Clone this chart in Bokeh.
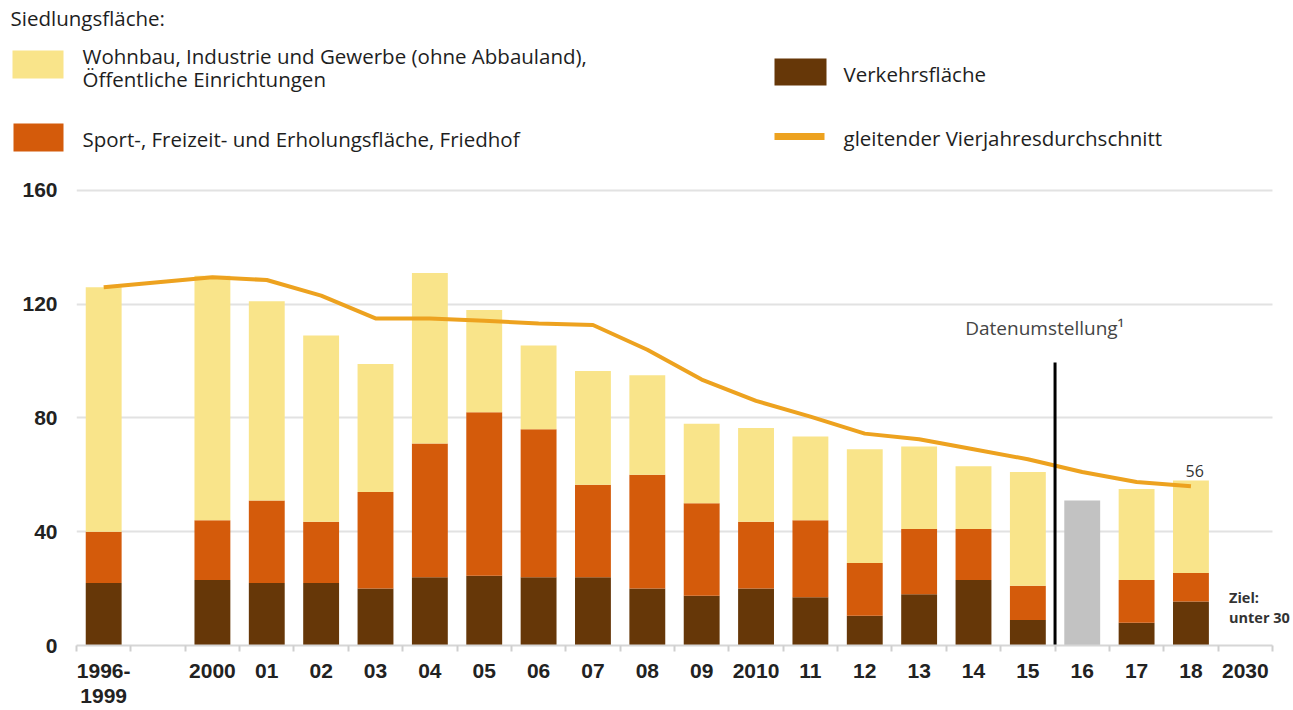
from bokeh.plotting import figure
from bokeh.models import Range1d, FixedTicker, Label
from bokeh.layouts import column
from bokeh.embed import file_html
from bokeh.resources import INLINE

# ---------------- data ----------------
slots = ["1996-1999", "", "2000", "01", "02", "03", "04", "05", "06", "07", "08",
         "09", "2010", "11", "12", "13", "14", "15", "16", "17", "18", "2030"]
tick_overrides = {"1996-1999": "1996-\n1999"}

bar_years = ["1996-1999", "2000", "01", "02", "03", "04", "05", "06", "07", "08",
             "09", "2010", "11", "12", "13", "14", "15", "17", "18"]
verkehr = [22, 23, 22, 22, 20, 24, 24.5, 24, 24, 20, 17.5, 20, 17, 10.5, 18, 23, 9, 8, 15.5]
sport = [18, 21, 29, 21.5, 34, 47, 57.5, 52, 32.5, 40, 32.5, 23.5, 27, 18.5, 23, 18, 12, 15, 10]
wohnbau = [86, 86, 70, 65.5, 45, 60, 36, 29.5, 40, 35, 28, 33, 29.5, 40, 29, 22, 40, 32, 32.5]

gray_years = ["16"]
gray_values = [51]

ma_years = ["1996-1999", "2000", "01", "02", "03", "04", "05", "06", "07", "08",
            "09", "2010", "11", "12", "13", "14", "15", "16", "17", "18"]
ma_values = [126, 129.5, 128.5, 123, 115, 115, 114.2, 113.2, 112.7, 104,
             93.5, 86, 80.5, 74.5, 72.5, 69, 65.5, 61, 57.5, 56]

umstellung_after = "15"
umstellung_top = 99.5
last_label = "56"
ziel_text = ["Ziel:", "unter 30"]

# ---------------- styles ----------------
YELLOW = "#f9e48a"
ORANGE = "#d45b0b"
BROWN = "#663708"
LINE = "#eda21f"
GRAY = "#c2c2c2"
FONT = "Open Sans"
TICKFONT = "Liberation Sans"

W = 1293
LH = 165
MH = 544
PX_PER_SLOT = 54.36


def no_align(fig):
    if "frame_align" in fig.properties():
        fig.frame_align = False


# ---------------- legend figure ----------------
lg = figure(width=W, height=LH, x_range=Range1d(0, W), y_range=Range1d(LH, 0),
            output_backend="svg", toolbar_location=None, x_axis_type=None, y_axis_type=None,
            min_border=0, outline_line_color=None)
lg.grid.visible = False
no_align(lg)


def ltxt(x, y, t):
    lg.add_layout(Label(x=x, y=y, text=t, text_font=FONT, text_font_size="20.5px",
                        text_color="#1e1e1e", text_baseline="middle", text_align="left"))


ltxt(10, 17, "Siedlungsfläche:")
lg.quad(left=[12], right=[63], top=[50], bottom=[78], color=YELLOW, line_color=None)
ltxt(82, 55, "Wohnbau, Industrie und Gewerbe (ohne Abbauland),")
ltxt(82, 78, "Öffentliche Einrichtungen")
lg.quad(left=[13], right=[63], top=[123], bottom=[151], color=ORANGE, line_color=None)
ltxt(82, 138, "Sport-, Freizeit- und Erholungsfläche, Friedhof")
lg.quad(left=[774], right=[826], top=[58], bottom=[85], color=BROWN, line_color=None)
ltxt(843, 73, "Verkehrsfläche")
lg.segment(x0=[774], y0=[136], x1=[824], y1=[136], line_color=LINE, line_width=7)
ltxt(843, 137, "gleitender Vierjahresdurchschnitt")

# ---------------- main chart ----------------
pos = {s: i for i, s in enumerate(slots)}
bx = [pos[y] for y in bar_years]

x_end = len(slots) - 0.5 + 21 / PX_PER_SLOT   # room on the right for the "Ziel" note
p = figure(width=W, height=MH, x_range=Range1d(-0.5, x_end),
           y_range=Range1d(0, 163.5), output_backend="svg", toolbar_location=None,
           min_border_left=76, min_border_right=0, min_border_top=15, min_border_bottom=64,
           outline_line_color=None)
no_align(p)

src = dict(x=bx, verkehr=verkehr, sport=sport, wohnbau=wohnbau)
p.vbar_stack(["verkehr", "sport", "wohnbau"], x="x", width=0.66, source=src,
             color=[BROWN, ORANGE, YELLOW], line_color=None)
p.vbar(x=[pos[y] for y in gray_years], top=gray_values, width=0.66, color=GRAY, line_color=None)

p.line([pos[y] for y in ma_years], ma_values, line_color=LINE, line_width=4)

ux = pos[umstellung_after] + 0.5
p.segment(x0=[ux], y0=[0], x1=[ux], y1=[umstellung_top], line_color="black", line_width=3)
p.add_layout(Label(x=ux - 0.19, y=111.8, text="Datenumstellung¹", text_font=FONT,
                   text_font_size="19px", text_color="#444444", text_align="center",
                   text_baseline="middle"))

p.add_layout(Label(x=pos[ma_years[-1]] + 0.07, y=ma_values[-1] + 5.5, text=last_label,
                   text_font=FONT, text_font_size="16px", text_color="#333333",
                   text_align="center", text_baseline="middle"))
for txt, yy in zip(ziel_text, [16.9, 9.8]):
    p.add_layout(Label(x=pos["2030"] - 0.3, y=yy, text=txt, text_font=FONT,
                       text_font_size="14.5px", text_font_style="bold", text_color="#333333",
                       text_align="left", text_baseline="middle"))

# axes
p.yaxis.ticker = FixedTicker(ticks=[0, 40, 80, 120, 160])
p.yaxis.axis_line_color = None
p.yaxis.major_tick_line_color = None
p.yaxis.minor_tick_line_color = None
p.yaxis.major_label_text_font = TICKFONT
p.yaxis.major_label_text_font_style = "bold"
p.yaxis.major_label_text_font_size = "21px"
p.yaxis.major_label_text_color = "#222222"
p.yaxis.major_label_standoff = 13

p.ygrid.ticker = FixedTicker(ticks=[40, 80, 120, 160])
p.ygrid.grid_line_color = "#e2e2e2"
p.ygrid.grid_line_width = 2
for g in p.ygrid:
    if "cross_bounds" in g.properties():
        g.cross_bounds = (-0.5, len(slots) - 0.5)
p.xgrid.visible = False

p.xaxis.ticker = FixedTicker(ticks=[i for i, s in enumerate(slots) if s],
                             minor_ticks=[i - 0.5 for i in range(len(slots) + 1)])
p.xaxis.major_label_overrides = {i: tick_overrides.get(s, s) for i, s in enumerate(slots) if s}
p.xaxis.bounds = (-0.5, len(slots) - 0.5)
p.xaxis.axis_line_color = "#d6d6d6"
p.xaxis.axis_line_width = 2
p.xaxis.major_tick_line_color = None
p.xaxis.major_tick_out = 0
p.xaxis.minor_tick_line_color = "#cfcfcf"
p.xaxis.minor_tick_line_width = 2
p.xaxis.minor_tick_in = 0
p.xaxis.minor_tick_out = 6
p.xaxis.major_label_text_font = TICKFONT
p.xaxis.major_label_text_font_style = "bold"
p.xaxis.major_label_text_font_size = "21px"
p.xaxis.major_label_text_line_height = 1.1
p.xaxis.major_label_text_color = "#222222"
p.xaxis.major_label_standoff = 7

layout = column(lg, p, spacing=0)
open("out.html", "w").write(file_html(layout, INLINE))
